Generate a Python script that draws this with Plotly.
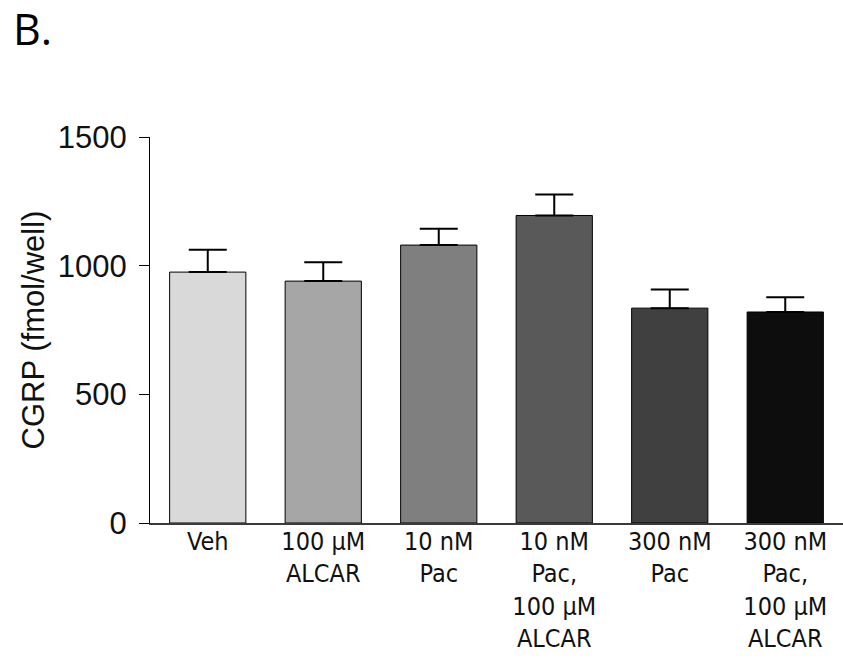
import plotly.graph_objects as go

categories = ["Veh", "100 µM<br>ALCAR", "10 nM<br>Pac", "10 nM<br>Pac,<br>100 µM<br>ALCAR",
              "300 nM<br>Pac", "300 nM<br>Pac,<br>100 µM<br>ALCAR"]
means = [975, 940, 1080, 1195, 835, 820]
errors = [87, 73, 63, 82, 72, 57]
colors = ["#d9d9d9", "#a6a6a6", "#7f7f7f", "#595959", "#404040", "#0d0d0d"]
y_ticks = [0, 500, 1000, 1500]

fig = go.Figure()
fig.add_trace(go.Bar(
    x=categories, y=means,
    marker=dict(color=colors, line=dict(color="black", width=1)),
    width=0.66,
    error_y=dict(type="data", symmetric=False, array=errors, arrayminus=[0] * len(errors),
                 color="black", thickness=2, width=19),
    showlegend=False,
))

fig.update_layout(
    width=843, height=660,
    margin=dict(l=150, r=0, t=137, b=137),
    paper_bgcolor="white", plot_bgcolor="white",
    bargap=0.34,
    xaxis=dict(
        range=[-0.5, 5.5], showgrid=False, zeroline=False, automargin=False,
        showline=True, linecolor="#3a3a3a", linewidth=1.5,
        ticks="", ticklabelstandoff=-5,
        tickfont=dict(family="Liberation Sans Narrow, Arial Narrow, DejaVu Sans Condensed, Liberation Sans, Arial",
                      size=25, color="#111111"),
    ),
    yaxis=dict(
        range=[0, 1500], showgrid=False, zeroline=False, automargin=False,
        showline=True, linecolor="black", linewidth=1,
        ticks="outside", ticklen=10, tickcolor="black", tickwidth=1,
        tickvals=y_ticks, ticktext=[str(v) for v in y_ticks],
        tickfont=dict(family="Liberation Sans, Arial", size=31, color="#111111"),
        ticklabelstandoff=6,
        title=dict(text="CGRP (fmol/well)", standoff=3,
                   font=dict(family="Liberation Sans, Arial", size=31, color="#111111")),
    ),
    annotations=[dict(
        text="B.", xref="paper", yref="paper",
        x=(12 - 150) / 693, y=(523 + 2) / 386, xanchor="left", yanchor="top",
        showarrow=False, borderpad=0,
        font=dict(family="Open Sans, Noto Sans", size=43, color="black"),
    )],
)

fig.write_html("out.html")
